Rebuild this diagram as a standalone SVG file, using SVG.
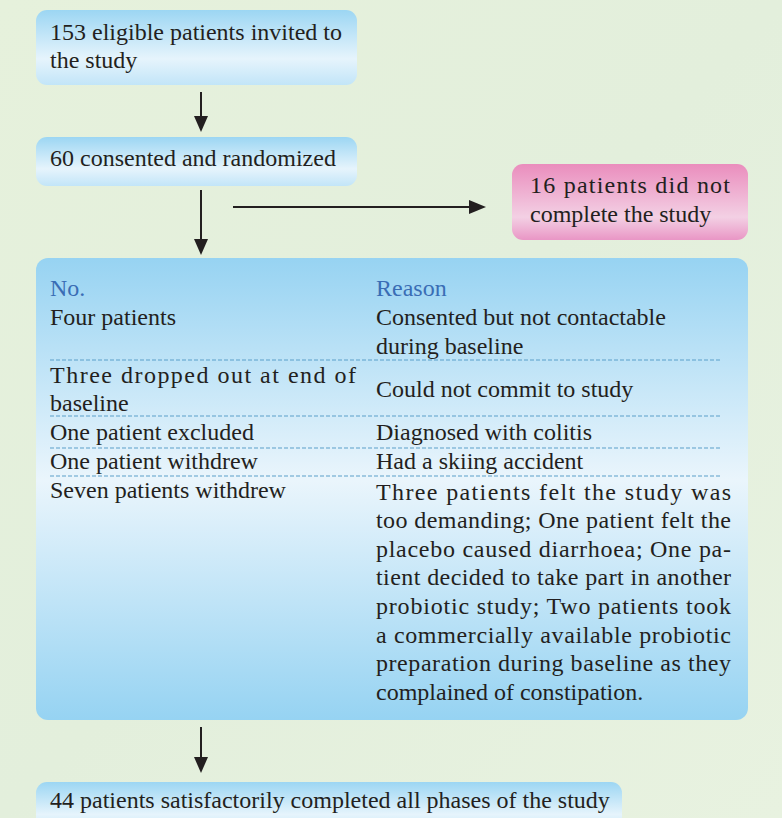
<svg xmlns="http://www.w3.org/2000/svg" width="782" height="818" viewBox="0 0 782 818">
<defs>
<linearGradient id="bg" x1="0" y1="0" x2="1" y2="1">
<stop offset="0" stop-color="#e6f1dc"/><stop offset="0.5" stop-color="#e3efdc"/><stop offset="1" stop-color="#e8f2e0"/>
</linearGradient>
<linearGradient id="gBlue" x1="0" y1="0" x2="0" y2="1">
<stop offset="0" stop-color="#9cd6f3"/><stop offset="0.65" stop-color="#e6f4fc"/><stop offset="1" stop-color="#c2e5f8"/>
</linearGradient>
<linearGradient id="gPink" x1="0" y1="0" x2="0" y2="1">
<stop offset="0" stop-color="#ea8dbd"/><stop offset="0.7" stop-color="#f3d0e4"/><stop offset="1" stop-color="#e996c5"/>
</linearGradient>
<linearGradient id="gBig" x1="0" y1="0" x2="0" y2="1">
<stop offset="0" stop-color="#97d3f2"/><stop offset="0.48" stop-color="#eaf5fc"/><stop offset="1" stop-color="#96d3f2"/>
</linearGradient>
<style>
text{font-family:"Liberation Serif","Times New Roman",serif;font-size:24px;fill:#231f20}
.hd{fill:#3a6db5}
.dash{stroke:#5a9fc9;stroke-width:1;stroke-dasharray:4 2;fill:none}
.conn{stroke:#231f20;stroke-width:2;fill:none}
.head{fill:#231f20}
</style>
</defs>
<rect width="782" height="818" fill="url(#bg)"/>
<g id="connectors">
<line class="conn" x1="201" y1="92" x2="201" y2="118"/>
<path class="head" d="M194,116 L208,116 L201,132 z"/>
<line class="conn" x1="201" y1="190" x2="201" y2="241"/>
<path class="head" d="M194,239 L208,239 L201,255 z"/>
<line class="conn" x1="233" y1="207" x2="471" y2="207"/>
<path class="head" d="M469,200 L469,214 L486,207 z"/>
<line class="conn" x1="201" y1="727" x2="201" y2="759"/>
<path class="head" d="M194,757 L208,757 L201,773 z"/>
</g>
<g id="n1">
<rect x="36" y="10" width="321" height="75" rx="11" fill="url(#gBlue)"/>
<text x="50" y="40">153 eligible patients invited to</text>
<text x="50" y="68">the study</text>
</g>
<g id="n2">
<rect x="36" y="137" width="321" height="49" rx="11" fill="url(#gBlue)"/>
<text x="50" y="166">60 consented and randomized</text>
</g>
<g id="n3">
<rect x="512" y="164" width="236" height="76" rx="11" fill="url(#gPink)"/>
<text x="530" y="193" textLength="200" lengthAdjust="spacing">16 patients did not</text>
<text x="530" y="222">complete the study</text>
</g>
<g id="n4">
<rect x="36" y="258" width="712" height="462" rx="12" fill="url(#gBig)"/>
<text class="hd" x="50" y="296">No.</text>
<text class="hd" x="376" y="296">Reason</text>
<text x="50" y="325">Four patients</text>
<text x="376" y="325">Consented but not contactable</text>
<text x="376" y="354">during baseline</text>
<line class="dash" x1="50" y1="360" x2="722" y2="360"/>
<text x="50" y="383" textLength="306" lengthAdjust="spacing">Three dropped out at end of</text>
<text x="50" y="411">baseline</text>
<text x="376" y="397">Could not commit to study</text>
<line class="dash" x1="50" y1="416" x2="722" y2="416"/>
<text x="50" y="440">One patient excluded</text>
<text x="376" y="440">Diagnosed with colitis</text>
<line class="dash" x1="50" y1="448" x2="722" y2="448"/>
<text x="50" y="469">One patient withdrew</text>
<text x="376" y="469">Had a skiing accident</text>
<line class="dash" x1="50" y1="476" x2="722" y2="476"/>
<text x="50" y="498">Seven patients withdrew</text>
<text x="376" y="500" textLength="355" lengthAdjust="spacing">Three patients felt the study was</text>
<text x="376" y="528" textLength="355" lengthAdjust="spacing">too demanding; One patient felt the</text>
<text x="376" y="557" textLength="355" lengthAdjust="spacing">placebo caused diarrhoea; One pa-</text>
<text x="376" y="585" textLength="355" lengthAdjust="spacing">tient decided to take part in another</text>
<text x="376" y="614" textLength="355" lengthAdjust="spacing">probiotic study; Two patients took</text>
<text x="376" y="643" textLength="355" lengthAdjust="spacing">a commercially available probiotic</text>
<text x="376" y="671" textLength="355" lengthAdjust="spacing">preparation during baseline as they</text>
<text x="376" y="700">complained of constipation.</text>
</g>
<g id="n5">
<rect x="36" y="782" width="586" height="50" rx="11" fill="url(#gBlue)"/>
<text x="50" y="808">44 patients satisfactorily completed all phases of the study</text>
</g>
</svg>
